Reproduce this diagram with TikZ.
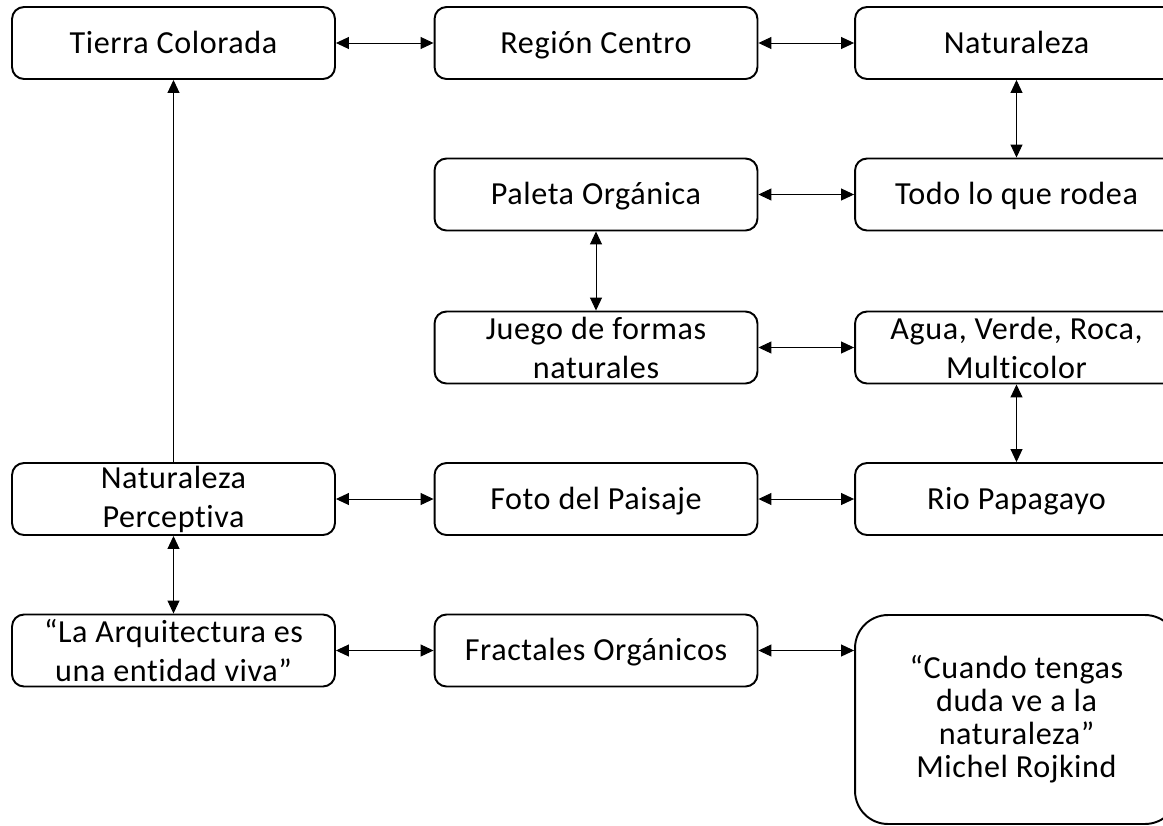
\documentclass[tikz,border=0pt]{standalone}
\usepackage{fontspec}
\setmainfont{Carlito}[Ligatures={NoCommon,NoContextual}, LetterSpace=1.8]
\usepackage{tikz}
\usetikzlibrary{arrows.meta}
\tikzset{
  box/.style={draw=black, line width=1.1pt, rounded corners=0.24cm, fill=white,
    align=center, minimum width=6.46cm, minimum height=1.44cm, inner sep=0pt,
    font=\fontsize{18.3}{22.2}\selectfont},
  single/.style={box, text height=11.8pt, text depth=0pt},
  quote/.style={box, rounded corners=0.66cm, minimum height=4.18cm,
    font=\fontsize{18.3}{18.8}\selectfont},
  link/.style={{Triangle[length=0.26cm, width=0.24cm]}-{Triangle[length=0.26cm, width=0.24cm]},
    line width=0.55pt, draw=black},
  lift/.style={-{Triangle[length=0.26cm, width=0.24cm]}, line width=0.55pt, draw=black}
}
\begin{document}
\begin{tikzpicture}[x=0.02cm, y=-0.02cm]
  \useasboundingbox (0,0) rectangle (1163,825);
  \clip (0,0) rectangle (1163,825);

  % first row
  \node[single] (tierra) at (173.5,43) {Tierra Colorada};
  \node[single] (region) at (596,43) {Región Centro};
  \node[single] (natur) at (1016.5,43) {Naturaleza};

  % middle rows
  \node[single] (paleta) at (596,194.5) {Paleta Orgánica};
  \node[single] (todo) at (1016.5,194.5) {Todo lo que rodea};
  \node[box] (juego) at (596,347.5) {Juego de formas\\naturales};
  \node[box] (agua) at (1016.5,347.5) {Agua, Verde, Roca,\\Multicolor};

  \node[box] (percep) at (173.5,499) {Naturaleza\\Perceptiva};
  \node[single] (foto) at (596,499) {Foto del Paisaje};
  \node[single] (rio) at (1016.5,499) {Rio Papagayo};

  % last row
  \node[box] (arqui) at (173.5,650.5) {“La Arquitectura es\\una entidad viva”};
  \node[single] (fract) at (596,650.5) {Fractales Orgánicos};
  \node[quote] (cita) at (1016.5,719.5)
    {“Cuando tengas\\duda ve a la\\naturaleza”\\Michel Rojkind};

  \draw[link] (tierra) -- (region);
  \draw[link] (region) -- (natur);
  \draw[link] (natur) -- (todo);
  \draw[link] (paleta) -- (todo);
  \draw[link] (paleta) -- (juego);
  \draw[link] (juego) -- (agua);
  \draw[link] (agua) -- (rio);
  \draw[link] (percep) -- (foto);
  \draw[link] (foto) -- (rio);
  \draw[link] (percep) -- (arqui);
  \draw[link] (arqui) -- (fract);
  \draw[link] (fract.east) -- (fract.east -| cita.west);
  \draw[lift] (percep) -- (tierra);
\end{tikzpicture}
\end{document}
